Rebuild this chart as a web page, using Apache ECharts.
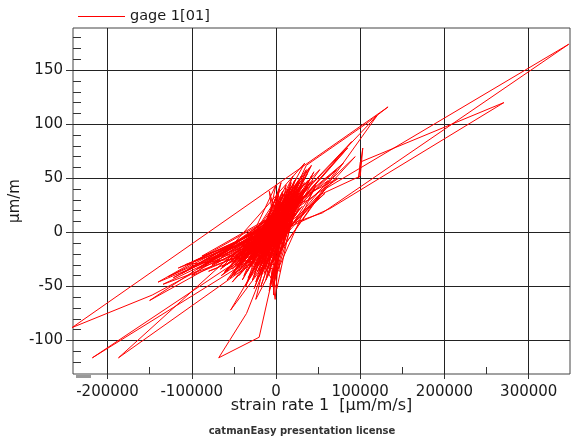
<!DOCTYPE html>
<html>
<head>
<meta charset="utf-8">
<title>gage 1[01]</title>
<script src="https://cdn.jsdelivr.net/npm/echarts@6/dist/echarts.min.js"></script>
<style>
  html, body { margin: 0; padding: 0; background: #fff; }
  #chart { width: 571px; height: 441px; }
</style>
</head>
<body>
<div id="chart"></div>
<script>
// strain rate 1 [µm/m/s] (x) against gage 1[01] [µm/m] (y)
var strainRate = [
  0, -14000, 16000, -28000, 8000, -9000, 24000, -38000, 4000, -20000,
  -128000, -6000, -98000, 11000, -116000, -3000, -147000, -242000, 133000, 108000,
  36000, 15000, -16000, 21000, -42000, 6000, -61000, 13000, -218000, -5000,
  19000, -31000, -187000, -4000, 29000, -10000, 17000, -24000, -80000, -70000,
  -50000, 10000, -33000, 22000, -7000, 30000, -52000, 2000, -18000, 42000,
  -14000, -54000, -27000, 25000, -45000, 5000, -100000, -2000, -88000, 12000,
  -70000, 34000, -11000, 55000, 347500, 60000, -6000, -35000, -68000, -20000,
  1000, -12000, 28000, -24000, 8000, -3000, 3000, -40000, 20000, -58000,
  18000, -1000, 47000, -21000, 64000, 270500, 100000, 98000, 103000, 100000,
  50000, -15000, 38000, -32000, 7000, -150000, -9000, 26000, -47000, 0,
  -19000, 14000, -26000, 4000, 85000, 20000, -37000, 10000, -8000, 5000,
  -60000, 16000, -4000, 72000, 9000, -23000, 31000, -44000, -2000, -112000,
  23000, -65000, 2000, 45000, -16000, 11000, -30000, 1000, 26000, -50000,
  6000, -90000, 19000, -12000, 94000, 40000, -6000, -36000, 12000, -26000,
  34000, -8000, -134000, 15000, -42000, 3000, -20000, 28000, -56000, 8000,
  -1000, -14000, 52000, -18000, 24000, -38000, 0, 62000, 10000, -28000,
  37000, -5000, -76000, 18000, -46000, 7000, 80000, 22000, -22000, 4000,
  -10000, 13000, -33000, 44000, -2000, -108000, 9000, -52000, 27000, -9000,
  40000, -15000, 1000, -24000, -8000, 20000, -30000, 6000, -64000, 16000,
  -3000, 30000, -40000, 10000, -18000, 24000, -12000, 2000,
  -20000, 14000, -36000, 6000, -12000, 32000, -48000, 0, -26000, 18000,
  -6000, 36000, -30000, 4000, -62000, 10000, -16000, 24000, -40000, -4000,
  -122000, 8000, -84000, 14000, -104000, 2000, -72000, 20000, -24000, 42000,
  -10000, 16000, -44000, 0, 28000, -34000, 12000, -8000, 22000, -52000,
  6000, -18000, 38000, -28000, 10000, -2000, 26000, -58000, 4000, -14000,
  120000, 30000, -20000, 14000, -38000, 2000, -12000, 46000, -6000, 18000,
  -46000, 8000, -22000, 34000, -4000, -94000, 12000, -66000, 24000, -14000,
  6000, -30000, 16000, -2000, 30000, -40000, 10000, -26000, 20000, -8000,
  58000, -16000, 4000, -54000, 22000, -10000, 12000, -32000, 0, -20000,
  90000, 26000, -44000, 8000, -24000, 16000, -6000, 32000, -36000, 2000,
  -140000, 10000, -78000, 18000, -28000, 6000, -12000, 28000, -48000, -1000,
  74000, 14000, -18000, 36000, -34000, 4000, -4000, 24000, -60000, 12000,
  -8000, 40000, -22000, 6000, -42000, 20000, -14000, 2000, 16000, -30000,
  10000, -50000, 26000, -6000, 0
];
var strain = [
  2, -10, 18, -20, 22, -26, 26, -22, 10, -4,
  -41, 7, -27, 12, -33, 2, -58, -88, 116, 101,
  62, 27, -12, 33, -30, 14, -36, 4, -116, -13,
  20, -6, -116, -15, 30, -34, 42, -18, -36, -33,
  -20, 8, -42, 48, -48, 38, -38, 24, -40, 52,
  -30, -72, -36, 18, -12, -6, -40, 16, -22, 6,
  -28, 64, 0, 18, 174, 41, -18, -75, -116, -97,
  -24, -4, 46, -46, 36, -58, 30, -16, 10, -44,
  36, -40, 44, -8, 22, 120, 65, 50, 78, 52,
  34, -22, 42, -28, 18, -63, -2, 36, -34, 44,
  -24, 30, -52, 6, 78, 22, -12, -10, 38, -36,
  -20, 14, -28, 58, 16, -30, 24, -40, 12, -38,
  16, -40, -4, 56, -34, 26, -8, -52, 40, -28,
  0, -32, 28, -20, 70, 30, 20, -50, 34, -14,
  46, -12, -48, 8, -20, 34, -36, 22, -26, 28,
  -62, 8, 58, -16, 36, -34, -10, 48, 18, -26,
  54, -4, -30, 24, -24, 10, 64, 26, -10, 40,
  -28, 20, -18, 48, -20, -30, 4, -46, 32, 12,
  60, -6, 20, -62, -38, 40, -40, 24, -32, 2,
  -14, 52, -26, 14, -50, 44, -16, 8,
  -28, 40, -20, 30, -44, 50, -30, 18, -40, 46,
  -30, 58, -16, 22, -38, 24, -26, 50, -44, 4,
  -42, 14, -30, 18, -34, 12, -24, 30, -34, 62,
  -20, 34, -26, -30, 36, -36, 44, -54, 30, -34,
  6, -30, 48, -12, 36, -46, 28, -30, 16, -38,
  108, 34, -14, 24, -40, 36, -10, 40, -24, 12,
  -18, 20, -44, 38, -8, -34, 10, -34, 22, -20,
  46, -32, 28, -34, 44, -32, 2, -22, 52, -6,
  36, -18, 28, -42, 38, -40, 16, -24, 32, -6,
  84, 26, -36, 38, -18, 20, -42, 40, -28, 0,
  -46, 20, -26, 16, -44, 32, -32, 42, -22, 8,
  50, 26, -22, 36, -46, 12, -50, 32, -36, 30,
  -16, 46, -36, 16, -30, 36, -12, -20, 38, -20,
  10, -40, 46, -10, 4
];

var xTicks = [-200000, -100000, 0, 100000, 200000, 300000];
var xMinorTicks = [-150000, -50000, 50000, 150000, 250000];
var yTicks = [-100, -50, 0, 50, 100, 150];
var yMinorTicks = [-120, -110, -90, -80, -70, -60, -40, -30, -20, -10,
  10, 20, 30, 40, 60, 70, 80, 90, 110, 120, 130, 140, 160, 170, 180];

var points = [];
for (var i = 0; i < strainRate.length; i++) {
  points.push([strainRate[i], strain[i]]);
}

var font = 'DejaVu Sans';
var ink = '#1a1a1a';
function plain(v) { return String(v); }

var chart = echarts.init(document.getElementById('chart'));
chart.setOption({
  animation: false,
  backgroundColor: '#fff',
  textStyle: { fontFamily: font },
  legend: {
    data: [{ name: 'gage 1[01]', icon: 'path://M0,0 L47,0 L47,1 L0,1 Z' }],
    left: 73, top: 4,
    itemWidth: 47, itemHeight: 1, itemGap: 10,
    textStyle: { fontSize: 14.5, color: ink, fontFamily: font }
  },
  grid: {
    left: 73, right: 1, top: 28, bottom: 67,
    outerBoundsMode: 'none', containLabel: false,
    show: true, borderColor: '#444', borderWidth: 1, backgroundColor: '#fff'
  },
  xAxis: [{
    type: 'value', min: -241000, max: 349000,
    name: 'strain rate 1  [µm/m/s]', nameLocation: 'middle', nameGap: 24,
    nameMoveOverlap: false,
    nameTextStyle: { fontSize: 16, color: ink, fontFamily: font },
    axisLine: { show: false, onZero: false },
    axisTick: { show: true, inside: false, length: 5, customValues: xTicks, lineStyle: { color: '#333' } },
    axisLabel: { fontSize: 15, color: ink, fontFamily: font, margin: 11, customValues: xTicks, formatter: plain },
    splitLine: { show: true, lineStyle: { color: '#222', width: 1 } }
  }, {
    type: 'value', min: -241000, max: 349000, position: 'bottom',
    axisLine: { show: false, onZero: false },
    axisTick: { show: true, inside: true, length: 7, customValues: xMinorTicks, lineStyle: { color: '#333' } },
    axisLabel: { show: false },
    splitLine: { show: false }
  }],
  yAxis: [{
    type: 'value', min: -131, max: 189,
    name: 'µm/m', nameLocation: 'middle', nameGap: 50,
    nameMoveOverlap: false,
    nameTextStyle: { fontSize: 15, color: ink, fontFamily: font },
    axisLine: { show: false, onZero: false },
    axisTick: { show: true, inside: false, length: 7, customValues: yTicks, lineStyle: { color: '#333' } },
    axisLabel: { fontSize: 15, color: ink, fontFamily: font, margin: 10, customValues: yTicks, formatter: plain },
    splitLine: { show: true, lineStyle: { color: '#222', width: 1 } }
  }, {
    type: 'value', min: -131, max: 189, position: 'left',
    axisLine: { show: false, onZero: false },
    axisTick: { show: true, inside: true, length: 8, customValues: yMinorTicks, lineStyle: { color: '#333' } },
    axisLabel: { show: false },
    splitLine: { show: false }
  }],
  series: [{
    name: 'gage 1[01]',
    type: 'line',
    xAxisIndex: 0, yAxisIndex: 0,
    data: points,
    symbol: 'none', showSymbol: false,
    clip: true,
    lineStyle: { color: '#ff0000', width: 1 },
    itemStyle: { color: '#ff0000' }
  }],
  graphic: [{
    type: 'rect',
    shape: { x: 76, y: 375, width: 15, height: 3 },
    style: { fill: '#999' }
  }, {
    type: 'text',
    x: 302, y: 431,
    style: {
      text: 'catmanEasy presentation license',
      fontSize: 10, fontWeight: 'bold', fontFamily: font,
      fill: '#333', align: 'center', verticalAlign: 'middle'
    }
  }]
});
</script>
</body>
</html>
